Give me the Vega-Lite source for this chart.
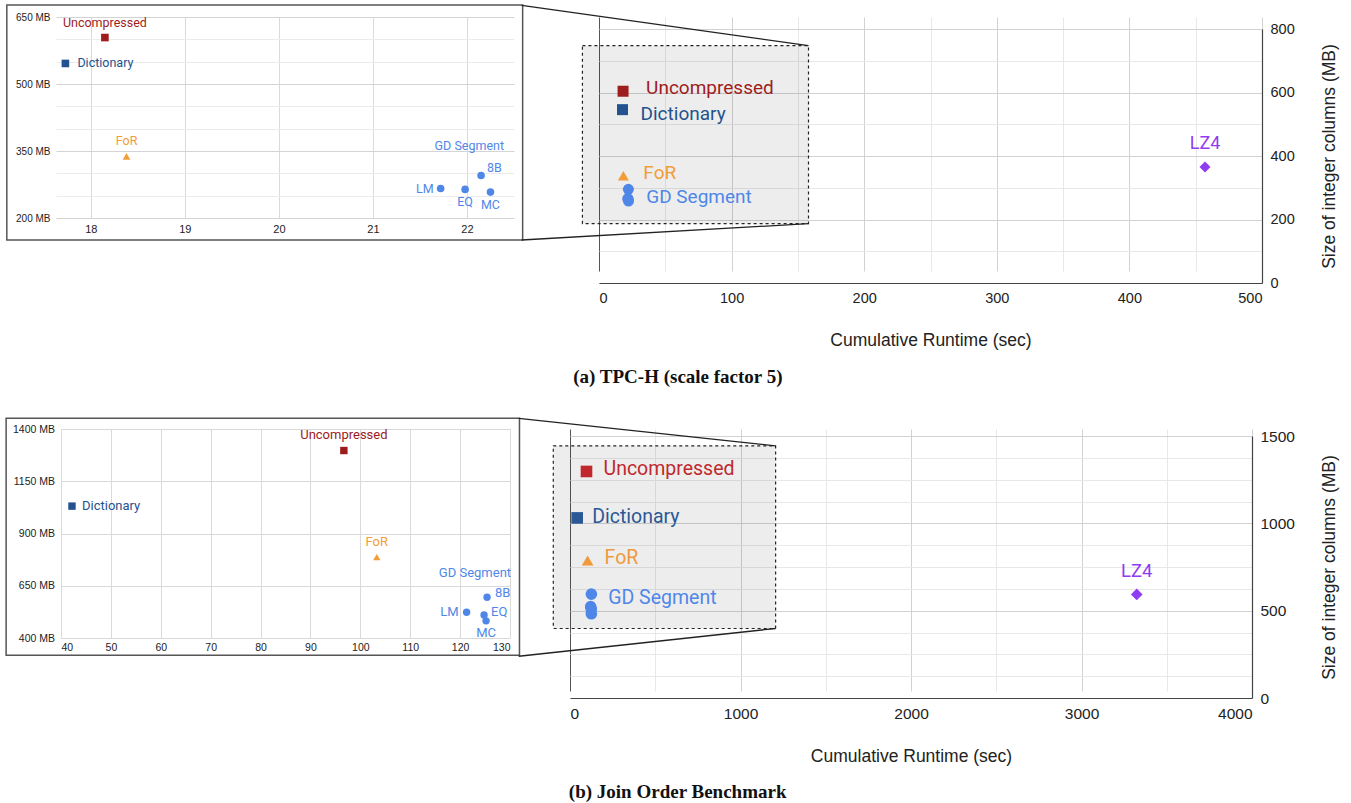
{
  "$schema": "https://vega.github.io/schema/vega-lite/v6.json",
  "background": "white",
  "padding": {"left": 5, "top": 4, "right": 6, "bottom": 0},
  "datasets": {
    "tpch": [
      {"method": "Uncompressed", "variant": "", "runtime": 18.15, "size": 604},
      {"method": "Dictionary", "variant": "", "runtime": 17.73, "size": 546},
      {"method": "FoR", "variant": "", "runtime": 18.38, "size": 338},
      {"method": "GD Segment", "variant": "LM", "runtime": 21.72, "size": 266},
      {"method": "GD Segment", "variant": "EQ", "runtime": 21.98, "size": 264},
      {"method": "GD Segment", "variant": "8B", "runtime": 22.15, "size": 295},
      {"method": "GD Segment", "variant": "MC", "runtime": 22.25, "size": 258},
      {"method": "LZ4", "variant": "", "runtime": 457, "size": 365}
    ],
    "job": [
      {"method": "Uncompressed", "variant": "", "runtime": 96.7, "size": 1297},
      {"method": "Dictionary", "variant": "", "runtime": 42.2, "size": 1031},
      {"method": "FoR", "variant": "", "runtime": 103.3, "size": 787},
      {"method": "GD Segment", "variant": "8B", "runtime": 125.4, "size": 595},
      {"method": "GD Segment", "variant": "LM", "runtime": 121.3, "size": 523},
      {"method": "GD Segment", "variant": "EQ", "runtime": 124.8, "size": 510},
      {"method": "GD Segment", "variant": "MC", "runtime": 125.2, "size": 482},
      {"method": "LZ4", "variant": "", "runtime": 3324, "size": 593}
    ],
    "tpch_inset_frame": [{"runtime_from": 17.107, "runtime_to": 22.592, "size_from": 150.7, "size_to": 676.9}],
    "tpch_zoom_region": [{"runtime_from": -12.5, "runtime_to": 158, "size_from": 187, "size_to": 747.7}],
    "tpch_zoom_links": [
      {"runtime_from": -58.3, "size_from": 874.6, "runtime_to": 158, "size_to": 747.7},
      {"runtime_from": -58.3, "size_from": 135.4, "runtime_to": 158, "size_to": 187}
    ],
    "job_inset_frame": [{"runtime_from": 29.0, "runtime_to": 131.9, "size_from": 317, "size_to": 1452}],
    "job_zoom_region": [{"runtime_from": -98, "runtime_to": 1206, "size_from": 398, "size_to": 1444}],
    "job_zoom_links": [
      {"runtime_from": -301, "size_from": 1600.6, "runtime_to": 1206, "size_to": 1444},
      {"runtime_from": -301, "size_from": 239, "runtime_to": 1206, "size_to": 398}
    ]
  },
  "spacing": 30,
  "resolve": {"scale": {"color": "independent", "shape": "independent", "size": "independent"}},
  "vconcat": [
    {
      "title": {"text": "(a) TPC-H (scale factor 5)", "orient": "bottom", "anchor": "middle", "font": "Liberation Serif", "fontSize": 19, "fontWeight": "bold", "color": "#111", "offset": 19, "dx": 6},
      "spacing": -3,
      "resolve": {"scale": {"color": "independent", "shape": "independent", "size": "independent"}},
      "hconcat": [
        {
          "width": 458, "height": 201,
          "data": {"name": "tpch"},
          "encoding": {
            "x": {"field": "runtime", "type": "quantitative", "scale": {"domain": [17.63, 22.5], "nice": false, "zero": false},
              "axis": {"values": [18, 19, 20, 21, 22], "title": null, "domain": false, "ticks": false, "labelFontSize": 11, "labelPadding": 5, "labelColor": "#222", "gridColor": "#dadada"}},
            "y": {"field": "size", "type": "quantitative", "scale": {"domain": [200, 650], "nice": false, "zero": false},
              "axis": {"values": [200, 250, 300, 350, 400, 450, 500, 550, 600, 650], "title": null, "domain": false, "ticks": false, "labelFontSize": 10, "labelPadding": 6, "labelColor": "#222",
                "labelExpr": "(datum.value - 200) % 150 === 0 ? datum.value + ' MB' : ''",
                "gridColor": {"condition": {"test": "(datum.value - 200) % 150 === 0", "value": "#d4d4d4"}, "value": "#ebebeb"}}},
            "color": {"field": "method", "type": "nominal", "legend": null,
              "scale": {"domain": ["Uncompressed", "Dictionary", "FoR", "GD Segment", "LZ4"], "range": ["#9e1d1d", "#24528e", "#f29d38", "#4f87e8", "#8f3cf2"]}}
          },
          "layer": [
            {"data": {"name": "tpch_inset_frame"}, "mark": {"type": "rect", "filled": false, "strokeWidth": 1.5},
              "encoding": {"x": {"field": "runtime_from", "type": "quantitative"}, "x2": {"field": "runtime_to"}, "y": {"field": "size_to", "type": "quantitative"}, "y2": {"field": "size_from"}, "color": {"value": "#555"}}},
            {"transform": [{"filter": "datum.method !== 'LZ4'"}], "mark": {"type": "point", "filled": true, "opacity": 1, "size": 58},
              "encoding": {"shape": {"field": "method", "type": "nominal", "legend": null, "scale": {"domain": ["Uncompressed", "Dictionary", "FoR", "GD Segment", "LZ4"], "range": ["square", "square", "triangle-up", "circle", "diamond"]}}}},
            {"transform": [{"filter": "datum.method === 'Uncompressed' || datum.method === 'FoR'"}], "mark": {"type": "text", "font": "Roboto", "fontSize": 12.5, "dy": -15}, "encoding": {"text": {"field": "method"}}},
            {"transform": [{"filter": "datum.method === 'Dictionary'"}], "mark": {"type": "text", "font": "Roboto", "fontSize": 12.5, "align": "left", "dx": 12}, "encoding": {"text": {"field": "method"}}},
            {"transform": [{"filter": "datum.method === 'GD Segment'"}, {"aggregate": [{"op": "mean", "field": "runtime", "as": "runtime"}, {"op": "max", "field": "size", "as": "size"}], "groupby": ["method"]}],
              "mark": {"type": "text", "font": "Roboto", "fontSize": 12.5, "dy": -30}, "encoding": {"text": {"field": "method"}}},
            {"transform": [{"filter": "datum.variant === '8B'"}], "mark": {"type": "text", "font": "Roboto", "fontSize": 12.5, "align": "left", "dx": 6, "dy": -8}, "encoding": {"text": {"field": "variant"}}},
            {"transform": [{"filter": "datum.variant === 'LM'"}], "mark": {"type": "text", "font": "Roboto", "fontSize": 12.5, "align": "right", "dx": -7}, "encoding": {"text": {"field": "variant"}}},
            {"transform": [{"filter": "datum.variant === 'EQ' || datum.variant === 'MC'"}], "mark": {"type": "text", "font": "Roboto", "fontSize": 12.5, "dy": 12.5}, "encoding": {"text": {"field": "variant"}}}
          ]
        },
        {
          "width": 663, "height": 266,
          "data": {"name": "tpch"},
          "encoding": {
            "x": {"field": "runtime", "type": "quantitative", "scale": {"domain": [0, 500], "nice": false},
              "axis": {"values": [0, 50, 100, 150, 200, 250, 300, 350, 400, 450, 500], "title": "Cumulative Runtime (sec)", "titleFontSize": 17.5, "titleFontWeight": "normal", "titleColor": "#222", "titlePadding": 27,
                "labelFontSize": 14.5, "labelColor": "#222", "labelPadding": 8, "ticks": false, "domainColor": "#444", "domainWidth": 1.2, "format": "d",
                "labelExpr": "datum.value % 100 === 0 ? datum.label : ''",
                "gridColor": {"condition": {"test": "datum.value === 0", "value": "#555"}, "value": "#d2d2d2"},
                "gridOpacity": {"condition": {"test": "datum.value % 100 !== 0", "value": 0.5}, "value": 1}}},
            "y": {"field": "size", "type": "quantitative", "scale": {"domain": [0, 800], "nice": false, "range": [266, 12]},
              "axis": {"orient": "right", "values": [0, 100, 200, 300, 400, 500, 600, 700, 800], "title": "Size of integer columns (MB)", "titleAngle": 270, "titleFontSize": 17.5, "titleFontWeight": "normal", "titleColor": "#222", "titlePadding": 44,
                "labelFontSize": 14.5, "labelColor": "#222", "labelPadding": 8, "ticks": false, "domainColor": "#444", "domainWidth": 1.2, "format": "d",
                "labelExpr": "datum.value % 200 === 0 ? datum.label : ''",
                "gridColor": {"condition": {"test": "datum.value % 200 === 0", "value": "#d2d2d2"}, "value": "#e8e8e8"}}},
            "color": {"field": "method", "type": "nominal", "legend": null,
              "scale": {"domain": ["Uncompressed", "Dictionary", "FoR", "GD Segment", "LZ4"], "range": ["#9e1d1d", "#24528e", "#f29d38", "#4f87e8", "#8f3cf2"]}}
          },
          "layer": [
            {"data": {"name": "tpch_zoom_region"}, "mark": {"type": "rect", "fill": "#000", "fillOpacity": 0.07, "stroke": "#222", "strokeWidth": 1.2, "strokeDash": [3, 3]},
              "encoding": {"x": {"field": "runtime_from", "type": "quantitative"}, "x2": {"field": "runtime_to"}, "y": {"field": "size_to", "type": "quantitative"}, "y2": {"field": "size_from"}, "color": {"value": "#000"}}},
            {"data": {"name": "tpch_zoom_links"}, "mark": {"type": "rule", "strokeWidth": 1.3},
              "encoding": {"x": {"field": "runtime_from", "type": "quantitative"}, "x2": {"field": "runtime_to"}, "y": {"field": "size_from", "type": "quantitative"}, "y2": {"field": "size_to"}, "color": {"value": "#222"}}},
            {"mark": {"type": "point", "filled": true, "opacity": 1},
              "encoding": {
                "shape": {"field": "method", "type": "nominal", "legend": null, "scale": {"domain": ["Uncompressed", "Dictionary", "FoR", "GD Segment", "LZ4"], "range": ["square", "square", "triangle-up", "circle", "diamond"]}},
                "size": {"field": "method", "type": "nominal", "legend": null, "scale": {"domain": ["Uncompressed", "Dictionary", "FoR", "GD Segment", "LZ4"], "range": [121, 121, 150, 144, 225]}}}},
            {"transform": [{"filter": "datum.method === 'Uncompressed'"}], "mark": {"type": "text", "font": "Roboto", "fontSize": 19, "align": "left", "dx": 23, "dy": -3}, "encoding": {"text": {"field": "method"}}},
            {"transform": [{"filter": "datum.method === 'Dictionary'"}], "mark": {"type": "text", "font": "Roboto", "fontSize": 19, "align": "left", "dx": 18, "dy": 4}, "encoding": {"text": {"field": "method"}}},
            {"transform": [{"filter": "datum.method === 'FoR'"}], "mark": {"type": "text", "font": "Roboto", "fontSize": 19, "align": "left", "dx": 20, "dy": -3}, "encoding": {"text": {"field": "method"}}},
            {"transform": [{"filter": "datum.method === 'GD Segment'"}, {"aggregate": [{"op": "mean", "field": "runtime", "as": "runtime"}, {"op": "max", "field": "size", "as": "size"}], "groupby": ["method"]}],
              "mark": {"type": "text", "font": "Roboto", "fontSize": 19, "align": "left", "dx": 18, "dy": 8}, "encoding": {"text": {"field": "method"}}},
            {"transform": [{"filter": "datum.method === 'LZ4'"}], "mark": {"type": "text", "font": "Roboto", "fontSize": 18, "dy": -23}, "encoding": {"text": {"field": "method"}}}
          ]
        }
      ]
    },
    {
      "title": {"text": "(b) Join Order Benchmark", "orient": "bottom", "anchor": "middle", "font": "Liberation Serif", "fontSize": 19, "fontWeight": "bold", "color": "#111", "offset": 18.5, "dx": 6},
      "spacing": -3,
      "resolve": {"scale": {"color": "independent", "shape": "independent", "size": "independent"}},
      "hconcat": [
        {
          "width": 454, "height": 209,
          "data": {"name": "job"},
          "encoding": {
            "x": {"field": "runtime", "type": "quantitative", "scale": {"domain": [40, 130], "nice": false, "zero": false, "range": [5, 454]},
              "axis": {"values": [40, 50, 60, 70, 80, 90, 100, 110, 120, 130], "title": null, "domain": false, "ticks": false, "labelFontSize": 10.5, "labelPadding": 4, "labelColor": "#222", "gridColor": "#dadada"}},
            "y": {"field": "size", "type": "quantitative", "scale": {"domain": [400, 1400], "nice": false, "zero": false},
              "axis": {"values": [400, 650, 900, 1150, 1400], "title": null, "domain": false, "ticks": false, "labelFontSize": 10.5, "labelPadding": 1.5, "labelColor": "#222",
                "labelExpr": "datum.value + ' MB'", "gridColor": "#d8d8d8"}},
            "color": {"field": "method", "type": "nominal", "legend": null,
              "scale": {"domain": ["Uncompressed", "Dictionary", "FoR", "GD Segment", "LZ4"], "range": ["#9b1c1c", "#24528e", "#f29d38", "#4f87e8", "#8f3cf2"]}}
          },
          "layer": [
            {"data": {"name": "job_inset_frame"}, "mark": {"type": "rect", "filled": false, "strokeWidth": 1.5},
              "encoding": {"x": {"field": "runtime_from", "type": "quantitative"}, "x2": {"field": "runtime_to"}, "y": {"field": "size_to", "type": "quantitative"}, "y2": {"field": "size_from"}, "color": {"value": "#555"}}},
            {"transform": [{"filter": "datum.method !== 'LZ4'"}], "mark": {"type": "point", "filled": true, "opacity": 1, "size": 55},
              "encoding": {"shape": {"field": "method", "type": "nominal", "legend": null, "scale": {"domain": ["Uncompressed", "Dictionary", "FoR", "GD Segment", "LZ4"], "range": ["square", "square", "triangle-up", "circle", "diamond"]}}}},
            {"transform": [{"filter": "datum.method === 'Uncompressed' || datum.method === 'FoR'"}], "mark": {"type": "text", "font": "Roboto", "fontSize": 13, "dy": -15.5}, "encoding": {"text": {"field": "method"}}},
            {"transform": [{"filter": "datum.method === 'Dictionary'"}], "mark": {"type": "text", "font": "Roboto", "fontSize": 13, "align": "left", "dx": 10}, "encoding": {"text": {"field": "method"}}},
            {"transform": [{"filter": "datum.method === 'GD Segment'"}, {"aggregate": [{"op": "mean", "field": "runtime", "as": "runtime"}, {"op": "max", "field": "size", "as": "size"}], "groupby": ["method"]}],
              "mark": {"type": "text", "font": "Roboto", "fontSize": 13, "dx": -6, "dy": -24}, "encoding": {"text": {"field": "method"}}},
            {"transform": [{"filter": "datum.variant === '8B'"}], "mark": {"type": "text", "font": "Roboto", "fontSize": 13, "align": "left", "dx": 8, "dy": -4}, "encoding": {"text": {"field": "variant"}}},
            {"transform": [{"filter": "datum.variant === 'LM'"}], "mark": {"type": "text", "font": "Roboto", "fontSize": 13, "align": "right", "dx": -8}, "encoding": {"text": {"field": "variant"}}},
            {"transform": [{"filter": "datum.variant === 'EQ'"}], "mark": {"type": "text", "font": "Roboto", "fontSize": 13, "align": "left", "dx": 7, "dy": -3}, "encoding": {"text": {"field": "variant"}}},
            {"transform": [{"filter": "datum.variant === 'MC'"}], "mark": {"type": "text", "font": "Roboto", "fontSize": 13, "dy": 12}, "encoding": {"text": {"field": "variant"}}}
          ]
        },
        {
          "width": 682, "height": 269,
          "data": {"name": "job"},
          "encoding": {
            "x": {"field": "runtime", "type": "quantitative", "scale": {"domain": [0, 4000], "nice": false},
              "axis": {"values": [0, 500, 1000, 1500, 2000, 2500, 3000, 3500, 4000], "title": "Cumulative Runtime (sec)", "titleFontSize": 17.5, "titleFontWeight": "normal", "titleColor": "#222", "titlePadding": 25.5,
                "labelFontSize": 15.5, "labelColor": "#222", "labelPadding": 8, "ticks": false, "domainColor": "#444", "domainWidth": 1.2, "format": "d",
                "labelExpr": "datum.value % 1000 === 0 ? datum.label : ''",
                "gridColor": {"condition": {"test": "datum.value === 0", "value": "#555"}, "value": "#d2d2d2"},
                "gridOpacity": {"condition": {"test": "datum.value % 1000 !== 0", "value": 0.5}, "value": 1}}},
            "y": {"field": "size", "type": "quantitative", "scale": {"domain": [0, 1500], "nice": false, "range": [269, 7]},
              "axis": {"orient": "right", "values": [0, 125, 250, 375, 500, 625, 750, 875, 1000, 1125, 1250, 1375, 1500], "title": "Size of integer columns (MB)", "titleAngle": 270, "titleFontSize": 17.5, "titleFontWeight": "normal", "titleColor": "#222", "titlePadding": 44,
                "labelFontSize": 15.5, "labelColor": "#222", "labelPadding": 8, "ticks": false, "domainColor": "#444", "domainWidth": 1.2, "format": "d",
                "labelExpr": "datum.value % 500 === 0 ? datum.label : ''",
                "gridColor": {"condition": {"test": "datum.value % 500 === 0", "value": "#d2d2d2"}, "value": "#e8e8e8"}}},
            "color": {"field": "method", "type": "nominal", "legend": null,
              "scale": {"domain": ["Uncompressed", "Dictionary", "FoR", "GD Segment", "LZ4"], "range": ["#c0282d", "#2a5896", "#ef9a3c", "#4f87e8", "#8f3cf2"]}}
          },
          "layer": [
            {"data": {"name": "job_zoom_region"}, "mark": {"type": "rect", "fill": "#000", "fillOpacity": 0.07, "stroke": "#222", "strokeWidth": 1.2, "strokeDash": [3, 3]},
              "encoding": {"x": {"field": "runtime_from", "type": "quantitative"}, "x2": {"field": "runtime_to"}, "y": {"field": "size_to", "type": "quantitative"}, "y2": {"field": "size_from"}, "color": {"value": "#000"}}},
            {"data": {"name": "job_zoom_links"}, "mark": {"type": "rule", "strokeWidth": 1.3},
              "encoding": {"x": {"field": "runtime_from", "type": "quantitative"}, "x2": {"field": "runtime_to"}, "y": {"field": "size_from", "type": "quantitative"}, "y2": {"field": "size_to"}, "color": {"value": "#222"}}},
            {"mark": {"type": "point", "filled": true, "opacity": 1},
              "encoding": {
                "shape": {"field": "method", "type": "nominal", "legend": null, "scale": {"domain": ["Uncompressed", "Dictionary", "FoR", "GD Segment", "LZ4"], "range": ["square", "square", "triangle-up", "circle", "diamond"]}},
                "size": {"field": "method", "type": "nominal", "legend": null, "scale": {"domain": ["Uncompressed", "Dictionary", "FoR", "GD Segment", "LZ4"], "range": [135, 135, 150, 150, 225]}}}},
            {"transform": [{"filter": "datum.method === 'Uncompressed'"}], "mark": {"type": "text", "font": "Roboto", "fontSize": 19.5, "align": "left", "dx": 17, "dy": -2}, "encoding": {"text": {"field": "method"}}},
            {"transform": [{"filter": "datum.method === 'Dictionary'"}], "mark": {"type": "text", "font": "Roboto", "fontSize": 19.5, "align": "left", "dx": 15, "dy": -1}, "encoding": {"text": {"field": "method"}}},
            {"transform": [{"filter": "datum.method === 'FoR'"}], "mark": {"type": "text", "font": "Roboto", "fontSize": 19.5, "align": "left", "dx": 17, "dy": -3}, "encoding": {"text": {"field": "method"}}},
            {"transform": [{"filter": "datum.method === 'GD Segment'"}, {"aggregate": [{"op": "mean", "field": "runtime", "as": "runtime"}, {"op": "max", "field": "size", "as": "size"}], "groupby": ["method"]}],
              "mark": {"type": "text", "font": "Roboto", "fontSize": 19.5, "align": "left", "dx": 17, "dy": 3.5}, "encoding": {"text": {"field": "method"}}},
            {"transform": [{"filter": "datum.method === 'LZ4'"}], "mark": {"type": "text", "font": "Roboto", "fontSize": 18.5, "dy": -23}, "encoding": {"text": {"field": "method"}}}
          ]
        }
      ]
    }
  ],
  "config": {
    "view": {"stroke": null},
    "font": "Liberation Sans",
    "axis": {"labelFont": "Liberation Sans", "titleFont": "Liberation Sans"}
  }
}
